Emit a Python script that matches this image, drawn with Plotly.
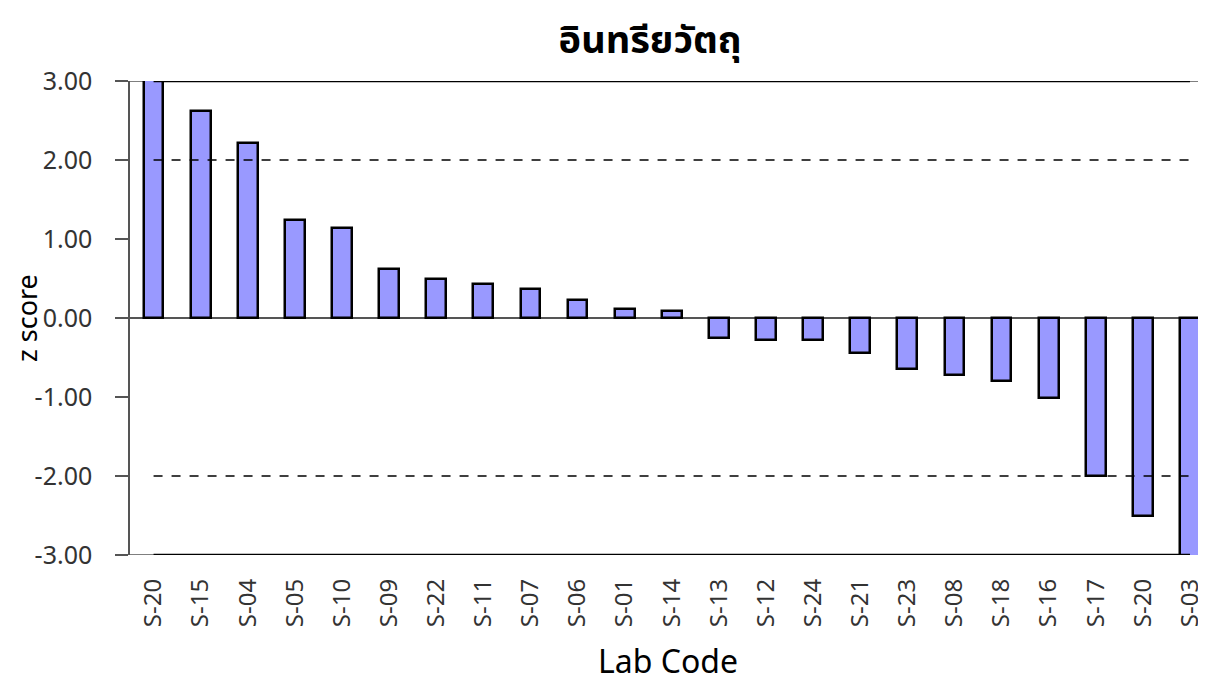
import plotly.graph_objects as go

labels = ["S-20", "S-15", "S-04", "S-05", "S-10", "S-09", "S-22", "S-11", "S-07", "S-06",
          "S-01", "S-14", "S-13", "S-12", "S-24", "S-21", "S-23", "S-08", "S-18", "S-16",
          "S-17", "S-20", "S-03"]
z_scores = [3.05, 2.62, 2.22, 1.24, 1.14, 0.62, 0.49, 0.43, 0.37, 0.23,
            0.12, 0.09, -0.25, -0.28, -0.28, -0.44, -0.64, -0.72, -0.80, -1.01,
            -2.00, -2.51, -3.05]
warn_limits = [2.0, -2.0]
action_limits = [3.0, -3.0]
y_ticks = [3, 2, 1, 0, -1, -2, -3]
y_tick_text = [f"{v:.2f}" for v in y_ticks]

positions = list(range(len(labels)))
thai_font = "Tahoma, 'Noto Sans Thai', 'Noto Sans', sans-serif"
latin_font = "Tahoma, 'Noto Sans', 'DejaVu Sans', sans-serif"

fig = go.Figure()
for lim in action_limits:
    fig.add_shape(type="line", xref="paper", x0=0, x1=1, yref="y", y0=lim, y1=lim,
                  line=dict(color="#555555", width=1.5), layer="below")
fig.add_trace(go.Bar(
    x=positions, y=z_scores, width=0.42,
    marker=dict(color="#9999FF", line=dict(color="black", width=2.5)),
    showlegend=False, hoverinfo="skip",
))
for lim in warn_limits:
    fig.add_trace(go.Scatter(
        x=[positions[0], positions[-1]], y=[lim, lim], mode="lines",
        line=dict(color="black", width=1.5, dash="dash"),
        showlegend=False, hoverinfo="skip",
    ))
for lim in action_limits:
    fig.add_trace(go.Scatter(
        x=[positions[0], positions[-1]], y=[lim, lim], mode="lines",
        line=dict(color="black", width=2.5),
        showlegend=False, hoverinfo="skip", cliponaxis=False,
    ))

fig.add_annotation(text="z score", xref="paper", yref="paper", x=-0.0967, y=0.5,
                   xanchor="center", yanchor="middle", textangle=-90, showarrow=False,
                   borderpad=0,
                   font=dict(family=latin_font, size=27, color="black"))

fig.update_layout(
    width=1198, height=674,
    margin=dict(l=122, r=0, t=73, b=127),
    paper_bgcolor="white", plot_bgcolor="white",
    title=dict(text="<b>อินทรียวัตถุ</b>", x=0.536, xanchor="center", y=0.953, yanchor="middle",
               font=dict(family=thai_font, size=38, color="black")),
    bargap=0,
)
fig.update_xaxes(
    range=[-0.5, 22.34],
    tickmode="array", tickvals=positions, ticktext=labels,
    tickangle=-90, tickfont=dict(family=latin_font, size=24, color="#333333"),
    ticklabelstandoff=18,
    ticks="", showgrid=False, zeroline=False, showline=False,
    title=dict(text="Lab Code", font=dict(family=latin_font, size=32, color="black"),
               standoff=27),
)
fig.update_yaxes(
    range=[-3, 3],
    tickmode="array", tickvals=y_ticks, ticktext=y_tick_text,
    tickfont=dict(family=latin_font, size=25, color="#333333"),
    ticklabelstandoff=18,
    ticks="outside", ticklen=13, tickcolor="#555555", tickwidth=1.5,
    showline=True, linecolor="#555555", linewidth=1.5,
    showgrid=False, zeroline=True, zerolinecolor="#555555", zerolinewidth=2,
)

fig.write_html("out.html")
